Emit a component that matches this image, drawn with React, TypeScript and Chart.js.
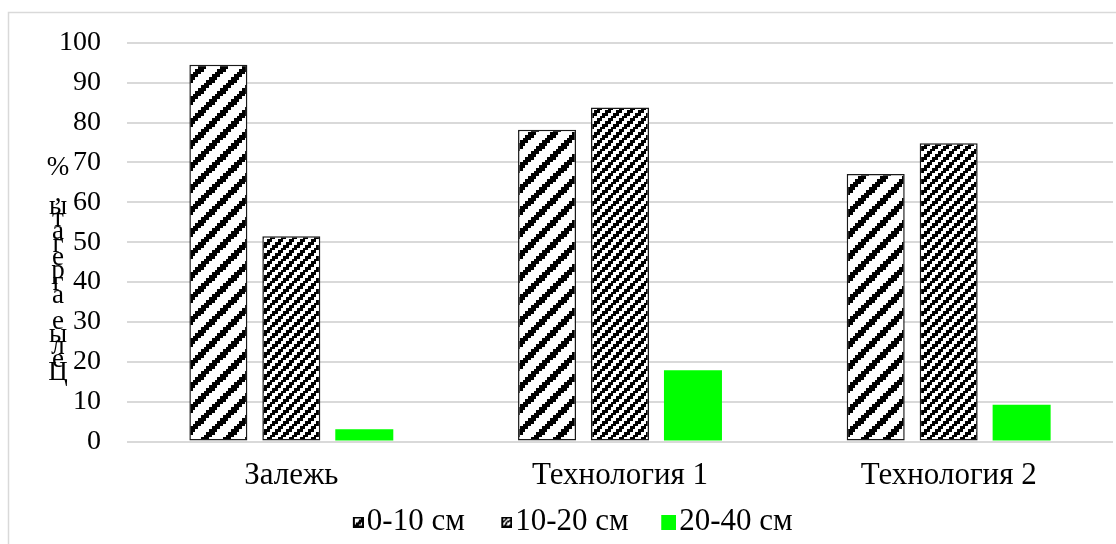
import React, { useEffect, useRef } from "react";
import { Chart, registerables } from "chart.js";

Chart.register(...registerables);

const categories = ["Залежь", "Технология 1", "Технология 2"];
const seriesLabels = ["0-10 см", "10-20 см", "20-40 см"];
const depth0to10 = [94.5, 78.2, 67.1];
const depth10to20 = [51.5, 83.8, 74.8];
const depth20to40 = [3.1, 17.9, 9.2];
const yMin = 0;
const yMax = 100;
const yStep = 10;
const yTitle = "Целые агрегаты, %";

const FONT_FAMILY = '"Liberation Serif", "Times New Roman", serif';
const TICK_SIZE = 28;
const LABEL_SIZE = 31;
const LEGEND_SIZE = 31;
const LEGEND_PAD = 34;
const PAD_L = 30;

function makeStripePattern(periodCells: number, blackCells: number, cell: number): CanvasPattern | string {
  const size = Math.round(periodCells * cell);
  const c = document.createElement("canvas");
  c.width = size;
  c.height = size;
  const g = c.getContext("2d");
  if (!g) return "#000";
  g.fillStyle = "#ffffff";
  g.fillRect(0, 0, size, size);
  g.fillStyle = "#000000";
  for (let i = 0; i < periodCells; i++) {
    for (let j = 0; j < periodCells; j++) {
      if ((i + j) % periodCells < blackCells) {
        const x0 = Math.round(i * cell);
        const x1 = Math.round((i + 1) * cell);
        const y0 = Math.round(j * cell);
        const y1 = Math.round((j + 1) * cell);
        g.fillRect(x0, y0, x1 - x0, y1 - y0);
      }
    }
  }
  const p = g.createPattern(c, "repeat");
  return p || "#000";
}

// Legend icon: a transparent canvas whose right part holds the swatch,
// so the swatch sits right next to the legend text.
function makeLegendIcon(fill: CanvasPattern | string, size: number, bordered: boolean, totalWidth: number): HTMLCanvasElement {
  const c = document.createElement("canvas");
  c.width = totalWidth;
  c.height = size;
  const g = c.getContext("2d");
  if (!g) return c;
  const x0 = totalWidth - size;
  g.fillStyle = fill as any;
  g.fillRect(x0, 0, size, size);
  if (bordered) {
    g.strokeStyle = "#000000";
    g.lineWidth = 2;
    g.strokeRect(x0 + 1, 1, size - 2, size - 2);
  }
  return c;
}

const framePlugin = {
  id: "frame",
  beforeDraw(chart: any) {
    const ctx = chart.ctx;
    ctx.save();
    ctx.fillStyle = "#ffffff";
    ctx.fillRect(0, 0, chart.width, chart.height);
    ctx.strokeStyle = "#d9d9d9";
    ctx.lineWidth = 1.5;
    ctx.strokeRect(8.5, 12.5, chart.width + 10, chart.height + 10);
    ctx.restore();
  },
};

const stackedTitlePlugin = {
  id: "stackedTitle",
  afterDraw(chart: any) {
    const ctx = chart.ctx;
    ctx.save();
    ctx.font = `27px ${FONT_FAMILY}`;
    ctx.fillStyle = "#000000";
    ctx.textAlign = "center";
    ctx.textBaseline = "middle";
    const chars = Array.from(yTitle);
    const bottomY = 373;
    const topY = 168;
    const step = (bottomY - topY) / (chars.length - 1);
    chars.forEach((ch, k) => {
      ctx.fillText(ch, 58, bottomY - k * step);
    });
    ctx.restore();
  },
};

export default function App() {
  const canvasRef = useRef<HTMLCanvasElement | null>(null);

  useEffect(() => {
    const canvas = canvasRef.current;
    if (!canvas) return;
    const wide = makeStripePattern(8, 3, 2.75);
    const dense = makeStripePattern(4, 2, 2.75);
    const smallWide = makeStripePattern(8, 3, 1.5);
    const smallDense = makeStripePattern(4, 2, 1.25);
    const iconTotal = 1 + LEGEND_SIZE - 2 * 3;
    const icons = [
      makeLegendIcon(smallWide, 11, true, iconTotal),
      makeLegendIcon(smallDense, 11, true, iconTotal),
      makeLegendIcon("#00ff00", 15, false, iconTotal),
    ];
    const tickFont = { family: FONT_FAMILY, size: TICK_SIZE };
    const labelFont = { family: FONT_FAMILY, size: LABEL_SIZE };
    const legendFont = { family: FONT_FAMILY, size: LEGEND_SIZE };
    const legendTop = 522 - LEGEND_PAD - LEGEND_SIZE / 2;
    const plotBottom = 441.5;
    const labelCenterY = 476;

    const chart = new Chart(canvas, {
      type: "bar",
      data: {
        labels: categories,
        datasets: [
          {
            label: seriesLabels[0],
            data: depth0to10,
            backgroundColor: wide as any,
            borderColor: "#1a1a1a",
            borderWidth: 1.5,
            borderSkipped: false,
          },
          {
            label: seriesLabels[1],
            data: depth10to20,
            backgroundColor: dense as any,
            borderColor: "#1a1a1a",
            borderWidth: 1.5,
            borderSkipped: false,
          },
          {
            label: seriesLabels[2],
            data: depth20to40,
            backgroundColor: "#00ff00",
            borderColor: "#00ff00",
            borderWidth: 0,
          },
        ],
      },
      options: {
        responsive: false,
        animation: false,
        categoryPercentage: 0.666,
        barPercentage: 0.795,
        layout: { padding: { left: PAD_L, right: 3, top: 37, bottom: 0 } },
        scales: {
          x: {
            grid: { display: false, drawTicks: false },
            border: { display: false },
            ticks: {
              font: labelFont,
              color: "#000000",
              mirror: true,
              padding: plotBottom - labelCenterY - (LABEL_SIZE * 1.2) / 2,
            },
            afterFit: (s: any) => {
              s.height = legendTop - plotBottom;
            },
          },
          y: {
            min: yMin,
            max: yMax,
            ticks: { stepSize: yStep, font: tickFont, color: "#000000", padding: 26 },
            grid: { color: "#d9d9d9", lineWidth: 2, drawTicks: false },
            border: { display: false },
            afterFit: (s: any) => {
              s.width = 127 - PAD_L;
            },
          },
        },
        plugins: {
          legend: {
            position: "bottom",
            maxHeight: 544 - legendTop,
            labels: {
              font: legendFont,
              color: "#000000",
              usePointStyle: true,
              pointStyleWidth: 1,
              boxHeight: 12,
              padding: LEGEND_PAD,
              generateLabels: (ch: any) => {
                const base = Chart.defaults.plugins.legend.labels.generateLabels(ch);
                return base.map((item: any, i: number) => ({ ...item, pointStyle: icons[i] }));
              },
            },
          },
          tooltip: { enabled: false },
        },
      } as any,
      plugins: [framePlugin, stackedTitlePlugin],
    });
    return () => chart.destroy();
  }, []);

  return (
    <canvas
      ref={canvasRef}
      width={1116}
      height={544}
      style={{ position: "absolute", left: 0, top: 0, display: "block" }}
    />
  );
}
